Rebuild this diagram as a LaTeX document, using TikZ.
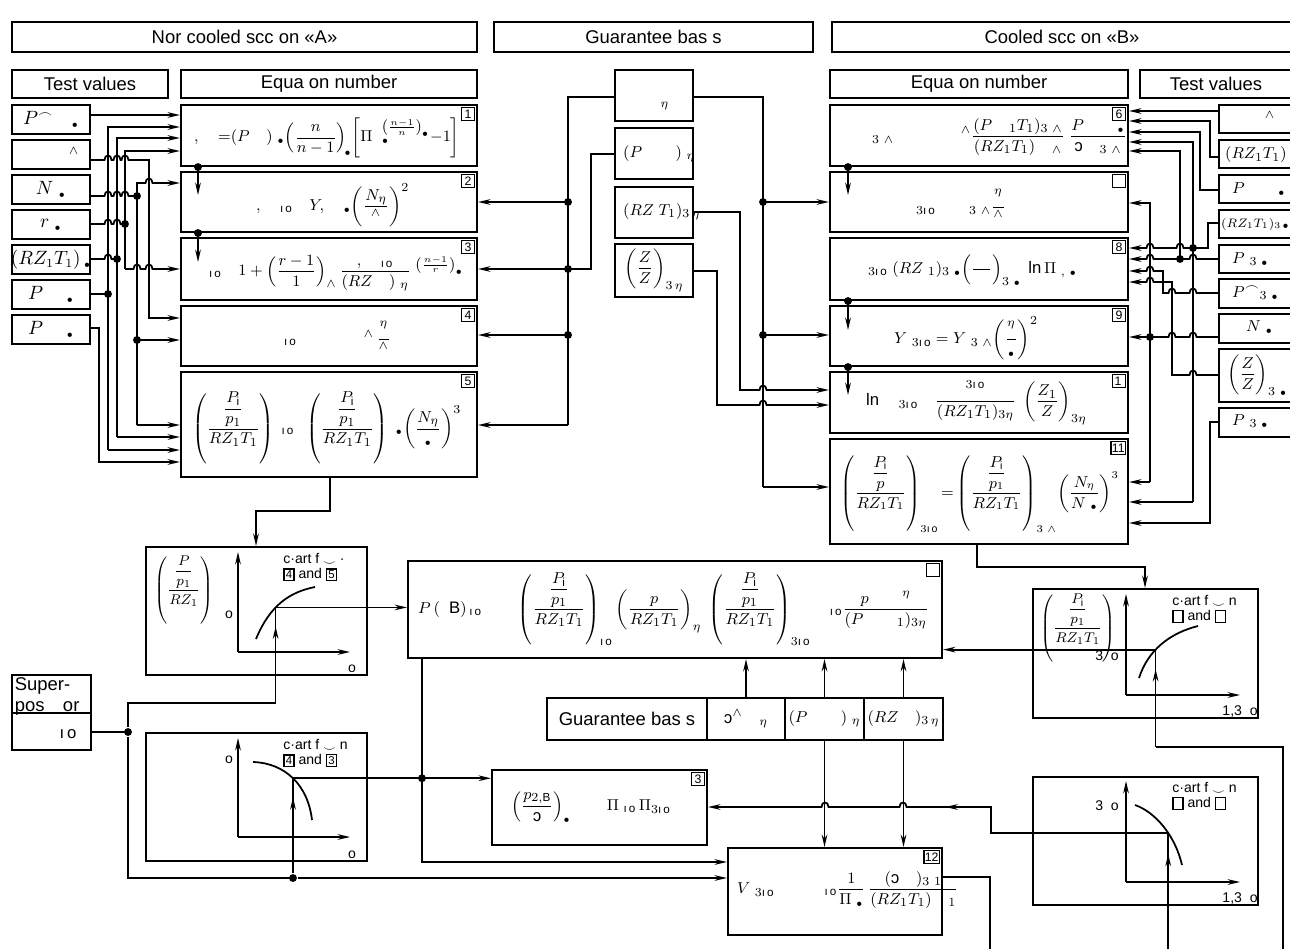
\documentclass[tikz,border=0pt]{standalone}
\usepackage{amsmath,amssymb}
\usepackage{fontspec}
\setmainfont{Liberation Sans}
\usetikzlibrary{arrows.meta,calc,fit,decorations.markings}

\tikzset{
  blk/.style={draw, line width=1.2pt, inner sep=0pt},
  wire/.style={line width=1pt},
  arr/.style={wire, -{Stealth[length=7pt,width=3.2pt]}},
  dot/.style={circle, fill, inner sep=0pt, minimum size=4.5pt},
  nbox/.style={draw, line width=0.9pt, inner sep=0.6pt, minimum size=7.5pt, font=\fontsize{7}{7}\selectfont},
  midarr/.style={postaction={decorate, decoration={markings, mark=at position #1 with {\arrow{Stealth[length=7pt,width=3.2pt]}}}}},
  txt/.style={font=\fontsize{10.5}{12}\selectfont},
  fml/.style={font=\fontsize{9.5}{11}\selectfont},
  sfml/.style={font=\fontsize{8}{9}\selectfont},
  lbl/.style={font=\fontsize{8}{8.5}\selectfont},
}
\newcommand{\blk}[6]{\node[blk, fit={(#2,#3)(#4,#5)}] (#1) {};\node[txt] at (#1.center) {#6};}
\newcommand{\nbx}[2]{\node[nbox, anchor=north east] at ([xshift=-1.5pt,yshift=-1.5pt]#1.north east) {#2};}
\newcommand{\hopr}[2]{-- (#1-3.5,#2) .. controls (#1-3.5,#2-6) and (#1+3.5,#2-6) .. (#1+3.5,#2)}
\newcommand{\hopl}[2]{-- (#1+3.5,#2) .. controls (#1+3.5,#2-6) and (#1-3.5,#2-6) .. (#1-3.5,#2)}
\newcommand{\ob}{\scriptscriptstyle\bullet}
\newcommand{\io}{\text{ı\,o}}
\newcommand{\rc}{\text{\reflectbox{c}}}
\newcommand{\smi}{\raisebox{-0.2ex}{$\scriptstyle\smile$}}
\newcommand{\nb}[1]{{\setlength{\fboxsep}{0.6pt}\setlength{\fboxrule}{0.8pt}\fbox{\fontsize{6.5}{6.5}\selectfont #1}}}
\newcommand{\ppr}[1]{\left(\dfrac{\dfrac{P_{\mathrm i}}{#1}}{RZ_1T_1}\right)}

\begin{document}
\begin{tikzpicture}[x=0.02cm,y=-0.02cm]
\useasboundingbox (0,0) rectangle (1290,949);
% headers
\blk{hA}{12}{22}{477}{52}{Nor cooled scc on «A»}
\blk{hG}{494}{22}{813}{52}{Guarantee bas s}
\blk{hB}{832}{22}{1292}{52}{Cooled scc on «B»}
\blk{tvA}{12}{70}{168}{98}{Test values}
\blk{enA}{181}{70}{477}{98}{Equa on number}
\blk{enB}{830}{70}{1128}{98}{Equa on number}
\blk{tvB}{1140}{70}{1292}{98}{Test values}

% test values A
\blk{tv1}{12}{105}{90}{134}{$P^{\frown}\quad{}_{\ob}$}
\blk{tv2}{12}{140}{90}{169}{\hspace{2.5em}${}^{\wedge}$}
\blk{tv3}{12}{175}{90}{204}{$N\ {}_{\ob}$}
\blk{tv4}{12}{210}{90}{239}{$r\ {}_{\ob}$}
\blk{tv5}{12}{245}{90}{274}{$(RZ_1T_1)\,{}_{\ob}$}
\blk{tv6}{12}{280}{90}{309}{$P\quad\ {}_{\ob}$}
\blk{tv7}{12}{315}{90}{344}{$P\quad\ {}_{\ob}$}

% equations A
\blk{eq1}{181}{105}{477}{166}{} \nbx{eq1}{1}
\blk{eq2}{181}{172}{477}{232}{} \nbx{eq2}{2}
\blk{eq3}{181}{238}{477}{300}{} \nbx{eq3}{3}
\blk{eq4}{181}{306}{477}{366}{} \nbx{eq4}{4}
\blk{eq5}{181}{372}{477}{477}{} \nbx{eq5}{5}
\node[fml, anchor=west] at (188,138) {$,\quad{=}(P\quad)\ {}_{\ob}\!\left(\dfrac{n}{n-1}\right)_{\!\ob}\!\left[\Pi\ \ {}_{\ob}^{\left(\frac{n-1}{n}\right)_{\ob}}{-}1\right]$};
\node[fml, anchor=west] at (250,205) {$,\quad{}_{\io}\quad Y,\quad{}_{\ob}\!\left(\dfrac{N_\eta}{{}^{\wedge}}\right)^{2}$};
\node[fml, anchor=west] at (203,273) {${}_{\io}\quad 1+\left(\dfrac{r-1}{1}\right)_{\wedge}\dfrac{,\quad{}_{\io}}{(RZ\quad)\ {}_{\eta}}\ {}^{\left(\frac{n-1}{r}\right)_{\ob}}$};
\node[fml, anchor=west] at (278,338) {${}_{\io}\qquad\qquad{}^{\wedge}\,\dfrac{{}^{\eta}}{{}^{\wedge}}$};
\node[fml, anchor=west] at (186,428) {$\ppr{p_1}\ {}_{\io}\ \ \ppr{p_1}\ {}_{\ob}\!\left(\dfrac{N_\eta}{{}_{\ob}}\right)^{3}$};

% guarantee basis
\blk{g1}{615}{70}{693}{121}{}
\blk{g2}{615}{128}{693}{179}{}
\blk{g3}{615}{187}{693}{238}{}
\blk{g4}{615}{244}{693}{297}{}
\node[fml] at (665,106) {${}_{\eta}$};
\node[fml, anchor=west] at (617,154) {$(P\qquad)\ {}_{\eta}$};
\node[fml, anchor=west] at (617,212) {$(RZ\ T_1)_{3\,\eta}$};
\node[fml] at (654,270) {$\left(\dfrac{Z}{Z}\right)_{3\,\eta}$};

% equations B
\blk{eq6}{830}{105}{1128}{166}{} \nbx{eq6}{6}
\blk{eq7}{830}{172}{1128}{232}{} \nbx{eq7}{\phantom{0}}
\blk{eq8}{830}{238}{1128}{300}{} \nbx{eq8}{8}
\blk{eq9}{830}{306}{1128}{366}{} \nbx{eq9}{9}
\blk{eq10}{830}{372}{1128}{433}{} \nbx{eq10}{1\,}
\blk{eq11}{830}{439}{1128}{544}{} \nbx{eq11}{11}
\node[fml, anchor=west] at (866,137) {${}_{3\ \wedge}\qquad\qquad{}^{\wedge}\dfrac{(P\quad{}_1T_1)_{3\ \wedge}}{(RZ_1T_1)\quad{}_{\wedge}}\ \dfrac{P\qquad{}_{\ob}}{\rc\quad{}_{3\ \wedge}}$};
\node[fml, anchor=west] at (910,206) {${}_{3\io}\qquad{}_{3\ \wedge}\dfrac{{}^{\eta}}{{}^{\wedge}}$};
\node[fml, anchor=west] at (862,270) {${}_{3\io}\ (RZ\ {}_1)_{3\ \ob}\!\left(\dfrac{\quad}{\quad}\right)_{3\ \ob}\ \ln\Pi\ {}_{,\ \ob}$};
\node[fml, anchor=west] at (888,338) {$Y\ {}_{3\io}=Y\ {}_{3\ \wedge}\!\left(\dfrac{{}^{\eta}}{{}_{\ob}}\right)^{2}$};
\node[fml, anchor=west] at (860,403) {$\ln\quad{}_{3\io}\quad\dfrac{{}^{3\io}}{(RZ_1T_1)_{3\eta}}\ \left(\dfrac{Z_1}{Z}\right)_{3\eta}$};
\node[font=\fontsize{9}{10.5}\selectfont, anchor=west] at (834,494) {$\ppr{p}_{3\io}{=}\ppr{p_1}_{3\ \wedge}\!\left(\dfrac{N_\eta}{N\ {}_{\ob}}\right)^{3}$};

% test values B
\blk{rtv1}{1219}{105}{1292}{133}{}
\blk{rtv2}{1219}{140}{1292}{168}{}
\blk{rtv3}{1219}{175}{1292}{203}{}
\blk{rtv4}{1219}{210}{1292}{238}{}
\blk{rtv5}{1219}{245}{1292}{273}{}
\blk{rtv6}{1219}{279}{1292}{308}{}
\blk{rtv7}{1219}{314}{1292}{343}{}
\blk{rtv8}{1219}{349}{1292}{402}{}
\blk{rtv9}{1219}{408}{1292}{437}{}
\node[fml] at (1270,118) {${}^{\wedge}$};
\node[fml, anchor=west] at (1219,155) {$(RZ_1T_1)$};
\node[fml, anchor=west] at (1226,189) {$P\qquad{}_{\ob}$};
\node[font=\fontsize{7.5}{8}\selectfont, anchor=west, inner sep=1pt] at (1219,224) {$(RZ_1T_1)_{3\,\ob}$};
\node[fml, anchor=west] at (1226,259) {$P\ {}_{3\ \ob}$};
\node[fml, anchor=west] at (1226,293) {$P^{\frown}{}_{3\ \ob}$};
\node[fml, anchor=west] at (1240,327) {$N\ {}_{\ob}$};
\node[fml, anchor=west] at (1221,375) {$\left(\dfrac{Z}{Z}\right)_{3\ \ob}$};
\node[fml, anchor=west] at (1226,421) {$P\ {}_{3\ \ob}$};

% wires A
\draw[arr] (tv1.east |- 0,115) -- (eq1.west |- 0,115);
\draw[arr] (tv2.east |- 0,160) \hopr{108}{160}\hopr{117}{160}\hopr{125}{160} -- (149,160) -- (149,318) -- (eq4.west |- 0,318);
\draw[wire] (tv3.east |- 0,196) \hopr{108}{196}\hopr{117}{196}\hopr{125}{196} -- (137,196) node[dot]{};
\draw[wire] (tv4.east |- 0,224) \hopr{108}{224}\hopr{117}{224} -- (125,224) node[dot]{};
\draw[wire] (tv5.east |- 0,259) \hopr{108}{259} -- (117,259) node[dot]{};
\draw[wire] (tv6.east |- 0,294) -- (108,294) node[dot]{};
\draw[arr] (tv7.east |- 0,328) -- (99,328) -- (99,462) -- (eq5.west |- 0,462);
\draw[arr] (108,450) -- (108,127) -- (eq1.west |- 0,127);
\draw[arr] (108,450) -- (eq5.west |- 0,450);
\draw[arr] (117,437) -- (117,138) -- (eq1.west |- 0,138);
\draw[arr] (117,437) -- (eq5.west |- 0,437);
\draw[arr] (125,269) -- (125,151) -- (eq1.west |- 0,151);
\draw[arr] (125,269) \hopr{137}{269}\hopr{149}{269} -- (eq3.west |- 0,269);
\draw[arr] (137,425) -- (137,183) \hopr{149}{183} -- (eq2.west |- 0,183);
\draw[arr] (137,340) node[dot]{} -- (eq4.west |- 0,340);
\draw[arr] (137,425) -- (eq5.west |- 0,425);
\draw[arr] (eq1.south -| 198,0) node[dot]{} -- (198,195);
\draw[arr] (eq2.south -| 198,0) node[dot]{} -- (198,262);

% wires guarantee
\draw[wire] (g1.west |- 0,97) -- (568,97) -- (568,425);
\draw[arr] (568,425) -- (eq5.east |- 0,425);
\draw[arr] (568,202) node[dot]{} -- (eq2.east |- 0,202);
\draw[arr] (568,335) node[dot]{} -- (eq4.east |- 0,335);
\draw[arr] (g2.west |- 0,154) -- (591,154) -- (591,269) -- (eq3.east |- 0,269);
\node[dot] at (568,269) {};
\draw[wire] (g1.east |- 0,97) -- (763,97) -- (763,487);
\draw[arr] (763,487) -- (eq11.west |- 0,487);
\draw[arr] (763,202) node[dot]{} -- (eq7.west |- 0,202);
\draw[arr] (763,335) node[dot]{} -- (eq9.west |- 0,335);
\draw[arr] (g3.east |- 0,212) -- (740,212) -- (740,390) \hopr{763}{390} -- (eq10.west |- 0,390);
\draw[arr] (g4.east |- 0,271) -- (717,271) -- (717,405) \hopr{763}{405} -- (eq10.west |- 0,405);

% wires B
\draw[arr] (rtv1.west |- 0,111) -- (eq6.east |- 0,111);
\draw[arr] (rtv2.west |- 0,157) -- (1210,157) -- (1210,121) -- (eq6.east |- 0,121);
\draw[arr] (rtv3.west |- 0,190) -- (1200,190) -- (1200,132) -- (eq6.east |- 0,132);
\draw[arr] (1193,502) -- (1193,142) -- (eq6.east |- 0,142);
\draw[arr] (1193,502) -- (eq11.east |- 0,502);
\draw[arr] (1180,259) -- (1180,151) -- (eq6.east |- 0,151);
\draw[arr] (1150,482) -- (1150,203) -- (eq7.east |- 0,203);
\draw[arr] (1150,482) -- (eq11.east |- 0,482);
\draw[arr] (rtv4.west |- 0,223) -- (1208,223) -- (1208,248) -- (1193,248) node[dot]{} \hopl{1180}{248}\hopl{1150}{248} -- (eq8.east |- 0,248);
\draw[arr] (rtv5.west |- 0,259) \hopl{1193}{259} -- (1180,259) node[dot]{} \hopl{1150}{259} -- (eq8.east |- 0,259);
\draw[arr] (rtv6.west |- 0,293) \hopl{1193}{293}\hopl{1172}{293} -- (1163,293) -- (1163,271) \hopl{1150}{271} -- (eq8.east |- 0,271);
\draw[arr] (rtv7.west |- 0,337) \hopl{1193}{337}\hopl{1172}{337} -- (1150,337) node[dot]{} -- (eq9.east |- 0,337);
\draw[arr] (rtv8.west |- 0,375) \hopl{1193}{375} -- (1172,375) -- (1172,282) \hopl{1150}{282} -- (eq8.east |- 0,282);
\draw[arr] (rtv9.west |- 0,422) -- (1210,422) -- (1210,523) -- (eq11.east |- 0,523);
\draw[arr] (eq6.south -| 848,0) node[dot]{} -- (848,195);
\draw[arr] (eq8.south -| 848,0) node[dot]{} -- (848,330);
\draw[arr] (eq9.south -| 848,0) node[dot]{} -- (848,395);

% chart 1
\blk{ch1}{146}{547}{367}{675}{}
\draw[arr] (238,652) -- (238,552);
\draw[arr] (238,652) -- (350,652);
\draw[wire] (256,639) .. controls (270,605) and (290,592) .. node[pos=0.4, coordinate] (c1) {} (315,587);
\node[sfml, anchor=west] at (148,590) {$\left(\dfrac{\dfrac{P}{p_1}}{RZ_1}\right)$};
\node[lbl] at (229,615) {o};
\node[lbl] at (352,669) {o};
\node[lbl, anchor=north west, align=left, inner sep=0pt] at (283,553) {c·art f \smi\ ·\\\nb{4} and \nb{5}};
\draw[arr] (eq5.south -| 330,0) -- (330,511) -| (ch1.north -| 256,0);

% chart 2
\blk{ch2}{146}{733}{367}{861}{}
\draw[arr] (238,837) -- (238,738);
\draw[arr] (238,837) -- (350,837);
\draw[wire] (253,762) .. controls (285,763) and (308,785) .. node[pos=0.5, coordinate] (c2) {} (312,820);
\node[lbl] at (229,760) {o};
\node[lbl] at (352,855) {o};
\node[lbl, anchor=north west, align=left, inner sep=0pt] at (283,739) {c·art f \smi\ n\\\nb{4} and \nb{3}};

% superposition
\blk{sp}{12}{675}{91}{750}{}
\draw[wire] (sp.west |- 0,713) -- (sp.east |- 0,713);
\node[txt, anchor=north west, align=left, inner sep=2pt] at (sp.north west) {Super-\\pos\quad or};
\node[fml] at (68,734) {$\io$};

% P box, strip, boxes 13 and 12
\blk{pb}{408}{561}{942}{658}{} \nbx{pb}{\phantom{0}}
\node[fml, anchor=west] at (412,609) {$P\,(\ \ \mathrm{B})\,{}_{\io}\qquad\ppr{p_1}_{\io}\left(\dfrac{p}{RZ_1T_1}\right)_{\eta}\ \ppr{p_1}_{3\io}\quad{}_{\io}\dfrac{p\qquad{}^{\eta}}{(P\qquad{}_1)_{3\eta}}$};
\blk{gs0}{547}{698}{707}{740}{Guarantee bas s}
\blk{gs1}{707}{698}{785}{740}{}
\blk{gs2}{785}{698}{864}{740}{}
\blk{gs3}{864}{698}{943}{740}{}
\node[fml] at (gs1) {$\rc{}^{\wedge}\quad{}_{\eta}$};
\node[fml] at (gs2) {$(P\qquad)\ {}_{\eta}$};
\node[fml] at (gs3) {$(RZ\quad)_{3\,\eta}$};
\blk{b13}{492}{770}{707}{845}{} \nbx{b13}{3}
\node[fml, anchor=west] at (505,807) {$\left(\dfrac{p_{2,\mathrm{B}}}{\rc}\right)_{\ob}\qquad\Pi\ {}_{\io}\,\Pi_{3\io}$};
\blk{vb}{728}{848}{942}{935}{} \nbx{vb}{12}
\node[fml, anchor=west] at (731,890) {$V\ {}_{3\io}\qquad\quad{}_{\io}\dfrac{1}{\Pi\ {}_{\ob}}\,\dfrac{(\rc\quad)_{3\ 1}}{(RZ_1T_1)\quad{}_1}$};

% chart 3
\blk{ch3}{1033}{589}{1258}{718}{}
\draw[arr] (1126,695) -- (1126,594);
\draw[arr] (1126,695) -- (1240,695);
\draw[wire] (1139,678) .. controls (1148,650) and (1170,633) .. node[pos=0.4, coordinate] (c3) {} (1198,626);
\node[sfml, anchor=west] at (1034,628) {$\ppr{p_1}$};
\node[lbl] at (1107,656) {3\ \ o};
\node[lbl] at (1240,711) {1,3\ \ o};
\node[lbl, anchor=north west, align=left, inner sep=0pt] at (1172,595) {c·art f \smi\ n\\\nb{\phantom{0}} and \nb{\phantom{0}}};

% chart 4
\blk{ch4}{1033}{777}{1258}{905}{}
\draw[arr] (1126,882) -- (1126,781);
\draw[arr] (1126,882) -- (1240,882);
\draw[wire] (1135,805) .. controls (1155,812) and (1175,835) .. node[pos=0.6, coordinate] (c4) {} (1182,865);
\node[lbl] at (1107,806) {3\ \ o};
\node[lbl] at (1240,898) {1,3\ \ o};
\node[lbl, anchor=north west, align=left, inner sep=0pt] at (1172,782) {c·art f \smi\ n\\\nb{\phantom{0}} and \nb{\phantom{0}}};

% bottom wires
\draw[arr] (c1) -- (c1 -| pb.west);
\draw[wire] (sp.east |- 0,732) -- (128,732) node[dot] (j1) {};
\draw[wire] (j1) -- (128,703) -- (c1 |- 0,703);
\draw[wire, midarr=0.8] (c1 |- 0,703) -- (c1);
\draw[wire] (j1) -- (128,878) -- (c2 |- 0,878) node[dot] (j2) {};
\draw[arr] (j2) -- (vb.west |- 0,878);
\draw[wire, midarr=0.8] (j2) -- (c2);
\draw[arr] (c2) -- (c2 -| b13.west);
\node[dot] at (c2 -| 422,0) {};
\draw[arr] (pb.south -| 422,0) |- (vb.west |- 0,862);
\draw[arr] (gs1.north) -- (gs1.north |- pb.south);
\draw[arr] (gs2.north) -- (gs2.north |- pb.south);
\draw[arr] (gs3.north) -- (gs3.north |- pb.south);
\draw[arr] (gs2.south) -- (gs2.south |- vb.north);
\draw[arr] (gs3.south) -- (gs3.south |- vb.north);
\draw[arr, midarr=0.5] (c4) -- (c4 -| 991,0) -- (991,807) \hopl{903}{807}\hopl{825}{807} -- (b13.east |- 0,807);
\draw[arr] (c3) -- (c3 -| pb.east);
\draw[arr] (eq11.south -| 977,0) -- (977,567) -| (ch3.north -| 1145,0);
\draw[wire] (1283,949) -- (1283,747) -- (c3 |- 0,747);
\draw[wire, midarr=0.8] (c3 |- 0,747) -- (c3);
\draw[wire, midarr=0.82] (c4 |- 0,949) -- (c4);
\draw[wire] (vb.east |- 0,877) -- (990,877) -- (990,949);
\end{tikzpicture}
\end{document}
